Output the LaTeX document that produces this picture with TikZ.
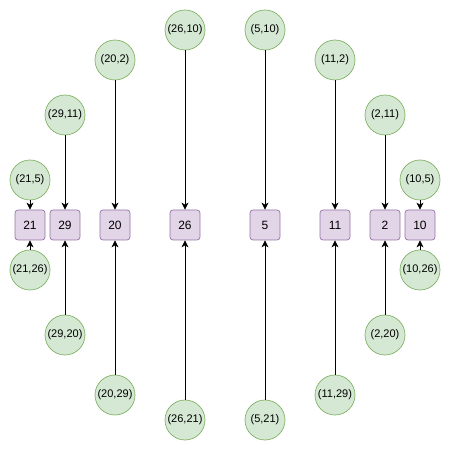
\documentclass[tikz,border=0pt]{standalone}
\usepackage{fontspec}
\setmainfont{Liberation Sans}
\usetikzlibrary{shapes,arrows.meta}
\definecolor{vertfill}{HTML}{E1D5E7}
\definecolor{vertline}{HTML}{9673A6}
\definecolor{pairfill}{HTML}{D5E8D4}
\definecolor{pairline}{HTML}{82B366}

\begin{document}
\begin{tikzpicture}[x=1pt, y=1pt,
  vert/.style={draw=vertline, fill=vertfill, rounded corners=3pt, minimum size=30pt, inner sep=0pt, line width=0.7pt, font=\fontsize{12}{14}\selectfont},
  pair/.style={draw=pairline, fill=pairfill, circle, minimum size=40pt, inner sep=0pt, line width=0.7pt, font=\fontsize{11}{13}\selectfont},
  link/.style={-{Stealth[length=7pt, width=7pt, inset=2pt]}, line width=0.8pt}]
  \useasboundingbox (0,0) rectangle (451,451);

  % Vertices
  \node[vert] (v21) at ( 30,226) {21};
  \node[vert] (v29) at ( 65,226) {29};
  \node[vert] (v20) at (115,226) {20};
  \node[vert] (v26) at (185,226) {26};
  \node[vert] (v5)  at (265,226) {5};
  \node[vert] (v11) at (335,226) {11};
  \node[vert] (v2)  at (385,226) {2};
  \node[vert] (v10) at (420,226) {10};

  % Pairs above
  \node[pair] (top21) at ( 30,271) {(21,5)};
  \node[pair] (top29) at ( 65,336) {(29,11)};
  \node[pair] (top20) at (115,391) {(20,2)};
  \node[pair] (top26) at (185,421) {(26,10)};
  \node[pair] (top5)  at (265,421) {(5,10)};
  \node[pair] (top11) at (335,391) {(11,2)};
  \node[pair] (top2)  at (385,336) {(2,11)};
  \node[pair] (top10) at (420,271) {(10,5)};

  % Pairs below
  \node[pair] (bot21) at ( 30,181) {(21,26)};
  \node[pair] (bot29) at ( 65,116) {(29,20)};
  \node[pair] (bot20) at (115, 56) {(20,29)};
  \node[pair] (bot26) at (185, 31) {(26,21)};
  \node[pair] (bot5)  at (265, 31) {(5,21)};
  \node[pair] (bot11) at (335, 56) {(11,29)};
  \node[pair] (bot2)  at (385,116) {(2,20)};
  \node[pair] (bot10) at (420,181) {(10,26)};

  % Arrows
  \draw[link] (top21) -- (v21);
  \draw[link] (top29) -- (v29);
  \draw[link] (top20) -- (v20);
  \draw[link] (top26) -- (v26);
  \draw[link] (top5) -- (v5);
  \draw[link] (top11) -- (v11);
  \draw[link] (top2) -- (v2);
  \draw[link] (top10) -- (v10);

  \draw[link] (bot21) -- (v21);
  \draw[link] (bot29) -- (v29);
  \draw[link] (bot20) -- (v20);
  \draw[link] (bot26) -- (v26);
  \draw[link] (bot5) -- (v5);
  \draw[link] (bot11) -- (v11);
  \draw[link] (bot2) -- (v2);
  \draw[link] (bot10) -- (v10);
\end{tikzpicture}
\end{document}
